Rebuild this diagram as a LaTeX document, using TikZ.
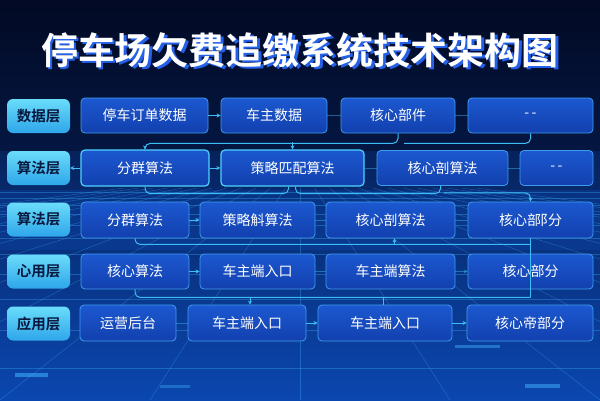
\documentclass[tikz,border=0pt]{standalone}
\usepackage{fontspec}
\setmainfont{Noto Sans CJK SC}[BoldFont={Noto Sans CJK SC Bold}]
\usetikzlibrary{arrows.meta,calc}
\definecolor{bgtop}{HTML}{020A24}
\definecolor{bgmid}{HTML}{072A6E}
\definecolor{bgbot}{HTML}{0B47B0}
\definecolor{gridc}{HTML}{3FB6FF}
\definecolor{boxtop}{HTML}{1C58D0}
\definecolor{boxbot}{HTML}{1240AE}
\definecolor{boxline}{HTML}{3E9CF0}
\definecolor{boxbright}{HTML}{4FD2FF}
\definecolor{labtop}{HTML}{6ADCFA}
\definecolor{labbot}{HTML}{2EA6EA}
\definecolor{labtext}{HTML}{08183E}
\definecolor{conn}{HTML}{3CBDF5}
\definecolor{titleblue}{HTML}{2460E8}
\tikzset{
  box/.style={draw=boxline, line width=0.8pt, rounded corners=4pt, top color=boxtop, bottom color=boxbot, text=white, font=\fontsize{14}{16}\selectfont, inner sep=0pt},
  brightbox/.style={box, draw=boxbright, line width=1.2pt},
  lab/.style={rounded corners=6pt, top color=labtop, bottom color=labbot, text=labtext, font=\bfseries\fontsize{14.5}{16}\selectfont, minimum width=63pt, minimum height=34pt, inner sep=0pt},
  con/.style={draw=conn, line width=1pt, rounded corners=5pt},
  faint/.style={draw=conn, line width=0.8pt, opacity=0.45},
  arr/.style={-{Stealth[length=4pt,width=4pt]}},
  gridline/.style={draw=gridc, line width=0.5pt, opacity=0.33},
  ttl/.style={font=\bfseries\fontsize{37}{42}\selectfont, inner sep=0pt}
}
\newcommand\bx[6]{\node[#6,minimum width=#3pt,minimum height=#4pt] (#1) at #2 {#5};}
\begin{document}
\begin{tikzpicture}[x=1pt,y=-1pt]
\useasboundingbox (0,0) rectangle (600,400);
% background
\fill[top color=bgtop, bottom color=bgbot, middle color=bgmid] (0,0) rectangle (600,400);
\fill[top color=bgtop, bottom color=bgtop!60!bgmid] (0,0) rectangle (600,150);
\fill[bgbot, opacity=0.35] (0,190) rectangle (600,250);
\begin{scope}
\clip (0,188) rectangle (600,400);
\foreach \x in {-1500,-1350,...,2100} {
  \draw[gridline] (300,165) -- (\x,400);
}
\foreach \y in {192,198,205,214,225,238,254,274,299,330,368} {
  \draw[gridline] (0,\y) -- (600,\y);
}
\end{scope}
% glowing spots
\fill[gridc, opacity=0.55] (15,373) rectangle (48,377);
\fill[gridc, opacity=0.45] (455,345) rectangle (500,348);
\fill[gridc, opacity=0.5] (525,384) rectangle (560,388);
\fill[gridc, opacity=0.35] (160,385) rectangle (190,388);
% title
\node[ttl, text=titleblue] (tshadow) at (302.5,52.5) {停车场欠费追缴系统技术架构图};
\node[ttl, text=white] (title) at (300,50) {停车场欠费追缴系统技术架构图};
% layer labels
\node[lab] (L1) at (38.5,116) {数据层};
\node[lab] (L2) at (38.5,168) {算法层};
\node[lab] (L3) at (38.5,219.5) {算法层};
\node[lab] (L4) at (38.5,271.5) {心用层};
\node[lab] (L5) at (38.5,323.5) {应用层};
% row 1
\bx{a1}{(144.5,115.5)}{127}{35}{停车订单数据}{box}
\bx{a2}{(274,115.5)}{106}{35}{车主数据}{box}
\bx{a3}{(398,115.5)}{114}{35}{核心部件}{box}
\bx{a4}{(530.5,115.5)}{125}{35}{-\,-}{box}
% row 2
\bx{b1}{(145,168)}{128}{36}{分群算法}{brightbox}
\bx{b2}{(292.5,168)}{143}{36}{策略匹配算法}{brightbox}
\bx{b3}{(442.5,168)}{131}{35}{核心剖算法}{box}
\bx{b4}{(556.5,168)}{73}{35}{-\,-}{box}
% row 3
\bx{c1}{(135,220)}{108}{36}{分群算法}{box}
\bx{c2}{(257.5,220)}{115}{36}{策略斛算法}{box}
\bx{c3}{(390.5,220)}{129}{36}{核心剖算法}{box}
\bx{c4}{(530.5,220)}{125}{36}{核心部\kern-1pt阝\kern-6pt分}{box}
% row 4
\bx{d1}{(135,271.5)}{108}{35}{核心算法}{box}
\bx{d2}{(257.5,271.5)}{115}{35}{车主端入口}{box}
\bx{d3}{(390.5,271.5)}{129}{35}{车主端算法}{box}
\bx{d4}{(530.5,271.5)}{125}{35}{核心部分}{box}
% row 5
\bx{e1}{(128,323)}{96}{36}{运营后台}{box}
\bx{e2}{(247,323)}{118}{36}{车主端入口}{box}
\bx{e3}{(385,323)}{134}{36}{车主端入口}{box}
\bx{e4}{(530,323)}{126}{36}{核心帝部分}{box}
% row 1 connectors
\draw[con,arr] (a1.east) -- (a2.west);
\draw[faint] (a2.east) -- (a3.west);
\draw[faint] (a3.east) -- (a4.west);
% row 1 -> row 2
\draw[con,arr] (a3.south) -- ++(0,10) -| (b1.north);
\draw[con,arr] ($(b2.north)+(0,-7)$) -- (b2.north);
\draw[con] (a4.south) -- ++(0,10) -- ($(a3.south)+(6,10)$);
% row 2 connectors
\draw[con,arr] (b1.west) -- (L2.east);
\draw[con,arr] (b1.east) -- (b2.west);
\draw[faint] (b2.east) -- (b3.west);
\draw[faint] (b3.east) -- (b4.west);
% row 2 -> row 3
\draw[con] (b1.south) -- ++(0,7) -| ($(b2.south)+(-4,0)$);
\draw[con] ($(b2.south)+(3,0)$) -- ++(0,7) -| ($(b3.south)+(-2,0)$);
\draw[con,arr] ($(b3.south)+(1,7)$) -| (c4.north);
% row 3 connectors
\draw[con,arr] (c1.east) -- (c2.west);
\draw[faint] (c2.east) -- (c3.west);
\draw[faint] (c3.east) -- (c4.west);
% row 3 -> row 4
\draw[con] (c1.south) -- ++(0,6) -- ($(c4.south)+(0,6)$);
\draw[con] (c4.south) -- ($(c4.south)+(0,59)$);
\draw[con,arr] ($(c3.south)+(4,6)$) -- ($(c3.south)+(4,0)$);
% row 4 connectors
\draw[con,arr] (d1.east) -- (d2.west);
\draw[faint] (d2.east) -- (d3.west);
\draw[faint,arr] (d3.east) -- (d4.west);
% row 4 -> row 5
\draw[con] (d1.south) -- ++(0,8) -- ($(d4.south)+(0,8)$);
\draw[con,arr] ($(e2.north)+(3,-8)$) -- ($(e2.north)+(3,0)$);
\draw[con] ($(e3.north)+(-2,-8)$) -- ($(e3.north)+(-2,0)$);
% row 5 connectors
\draw[faint] (e1.east) -- (e2.west);
\draw[con,arr] (e2.east) -- (e3.west);
\draw[con,arr] (e3.east) -- (e4.west);
\end{tikzpicture}
\end{document}
